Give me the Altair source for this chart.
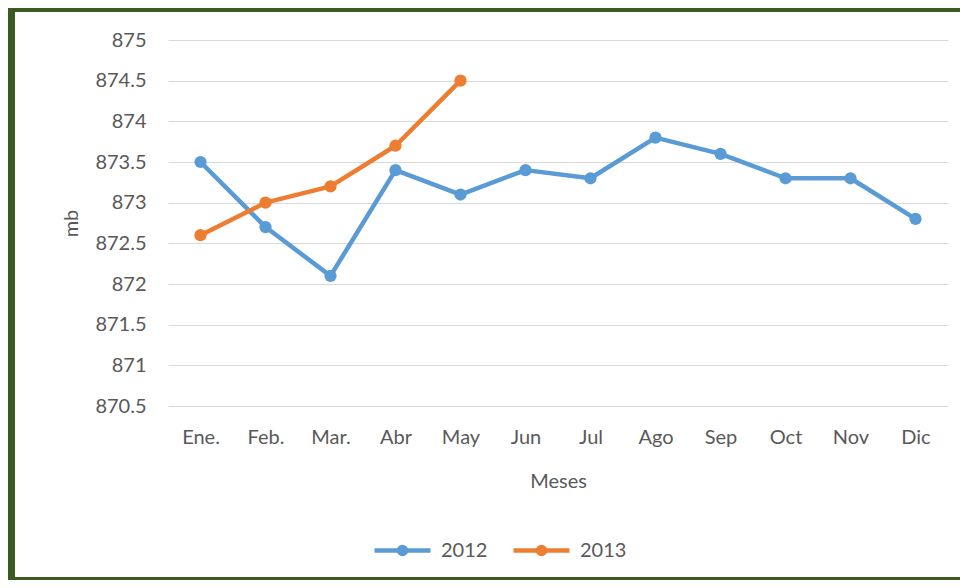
import altair as alt
import pandas as pd

months = ["Ene.", "Feb.", "Mar.", "Abr", "May", "Jun", "Jul", "Ago", "Sep", "Oct", "Nov", "Dic"]
v2012 = [873.5, 872.7, 872.1, 873.4, 873.1, 873.4, 873.3, 873.8, 873.6, 873.3, 873.3, 872.8]
v2013 = [872.6, 873.0, 873.2, 873.7, 874.5]
series = ["2012", "2013"]
y_ticks = [870.5, 871, 871.5, 872, 872.5, 873, 873.5, 874, 874.5, 875]

rows = [{"Mes": m, "Serie": "2012", "mb": v} for m, v in zip(months, v2012)]
rows += [{"Mes": m, "Serie": "2013", "mb": v} for m, v in zip(months, v2013)]
df = pd.DataFrame(rows)

FONT = "Lato"
TEXT = "#595959"
BLUE = "#5b9bd5"
ORANGE = "#ed7d31"
GREEN = "#3b5a22"
GRID = "#d9d9d9"

legend_path = ("M-1,0L1,0"
               "M0.125,0A0.125,0.125 0 1,1 -0.125,0A0.125,0.125 0 1,1 0.125,0"
               "M0.045,0A0.045,0.045 0 1,1 -0.045,0A0.045,0.045 0 1,1 0.045,0")

x = alt.X("Mes:N", sort=months, scale=alt.Scale(padding=0.5),
          axis=alt.Axis(title="Meses", labelAngle=0, ticks=False, domain=False, grid=False,
                        labelPadding=21, titlePadding=24))
y = alt.Y("mb:Q", scale=alt.Scale(domain=[870.5, 875], nice=False, zero=False),
          axis=alt.Axis(title="mb", values=y_ticks, format="~f", ticks=False, domain=False,
                        grid=True, gridColor=GRID, gridWidth=1.2, labelPadding=22, titlePadding=13))
color = alt.Color("Serie:N", scale=alt.Scale(domain=series, range=[BLUE, ORANGE]),
                  legend=alt.Legend(title=None, orient="none", legendX=204, legendY=480,
                                    direction="horizontal", symbolType=legend_path,
                                    symbolSize=3136, symbolStrokeWidth=4.5, labelOffset=8,
                                    columnPadding=16, labelFont=FONT, labelFontSize=20,
                                    labelColor=TEXT))

lines = alt.Chart(df).mark_line(
    strokeWidth=4.5, strokeJoin="round",
    point=alt.OverlayMarkDef(filled=True, size=150, opacity=1)
).encode(x=x, y=y, color=color)

frame_df = pd.DataFrame({"k": [0]})
left = alt.Chart(frame_df).mark_rule(color=GREEN, strokeWidth=7, clip=False).encode(
    x=alt.value(-156.5), y=alt.value(-32), y2=alt.value(540))
top = alt.Chart(frame_df).mark_rule(color=GREEN, strokeWidth=4, clip=False).encode(
    x=alt.value(-160), x2=alt.value(792), y=alt.value(-30))
bottom = alt.Chart(frame_df).mark_rule(color=GREEN, strokeWidth=3, clip=False).encode(
    x=alt.value(-160), x2=alt.value(792), y=alt.value(538.5))

chart = alt.layer(lines, left, top, bottom).properties(
    width=780, height=366,
    padding={"left": 160, "top": 32, "right": 12, "bottom": 174},
    autosize=alt.AutoSizeParams(type="none"),
    background="white",
).configure_view(stroke=None).configure_axis(
    labelFont=FONT, labelFontSize=20, labelColor=TEXT,
    titleFont=FONT, titleFontSize=20, titleColor=TEXT, titleFontWeight="normal",
)

chart.save("out.html", embed_options={"renderer": "svg", "actions": False})
